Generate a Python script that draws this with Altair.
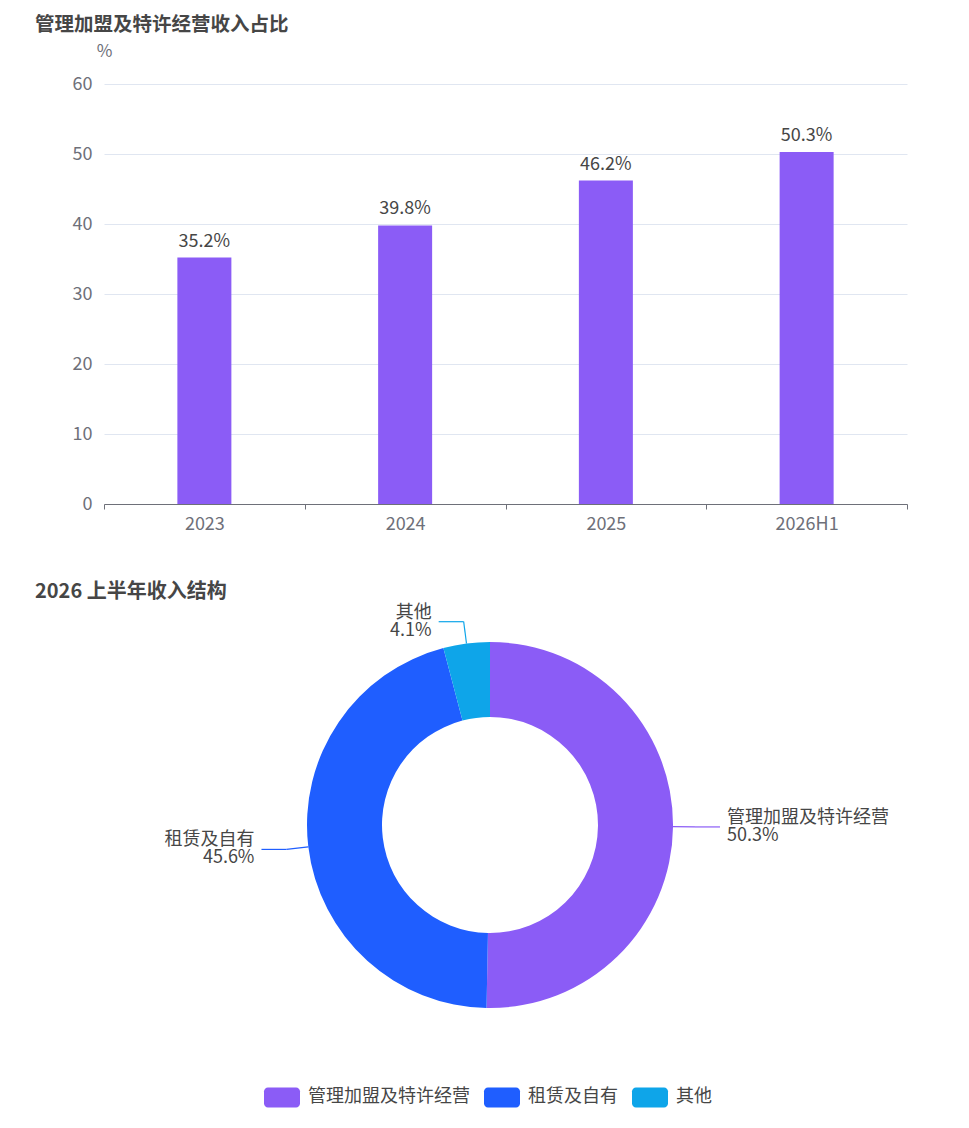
import altair as alt
import pandas as pd

# ---- data ----
years = ["2023", "2024", "2025", "2026H1"]
share = [35.2, 39.8, 46.2, 50.3]

segments = ["管理加盟及特许经营", "租赁及自有", "其他"]
seg_values = [50.3, 45.6, 4.1]
seg_colors = ["#8B5CF6", "#1F5EFF", "#0EA5E9"]

# ---- style / layout ----
FONT = "Noto Sans CJK SC"
TXT = "#464646"
AX = "#6E7079"
BAR_W, BAR_H = 803, 420
PIE_W, PIE_H = 772, 440
R_OUT, R_IN = 183, 108
L1, L2 = 22, 25

bar_df = pd.DataFrame({"year": years, "share": share})
bar_df["label"] = [f"{v:.1f}%" for v in share]

xenc = alt.X(
    "year:N", sort=years, title=None,
    scale=alt.Scale(paddingInner=0, paddingOuter=0),
    axis=alt.Axis(labelAngle=0, labelFont=FONT, labelFontSize=18, labelColor=AX,
                  labelPadding=6, domainColor=AX, tickColor=AX, tickSize=5,
                  tickBand="extent", grid=False),
)
yenc = alt.Y(
    "share:Q", scale=alt.Scale(domain=[0, 60]),
    axis=alt.Axis(values=[0, 10, 20, 30, 40, 50, 60], labelFont=FONT, labelFontSize=18,
                  labelColor=AX, labelPadding=12, domain=False, ticks=False,
                  gridColor="#E0E6F1", title="%", titleAngle=0, titleX=0, titleY=-33,
                  titleAlign="center", titleBaseline="middle", titleFont=FONT,
                  titleFontSize=17, titleFontWeight="normal", titleColor=AX),
)
bar_base = alt.Chart(bar_df)
bars = bar_base.mark_bar(color="#8B5CF6", width=54).encode(x=xenc, y=yenc)
bar_text = bar_base.mark_text(baseline="bottom", dy=-7, font=FONT, fontSize=18, color=TXT).encode(
    x=alt.X("year:N", sort=years), y=alt.Y("share:Q"), text="label:N")

bar_chart = alt.layer(bars, bar_text).properties(
    width=BAR_W, height=BAR_H,
    title=alt.TitleParams("管理加盟及特许经营收入占比", anchor="start", frame="group", dx=-69,
                          font=FONT, fontSize=19.5, fontWeight="bold", color=TXT, offset=7),
)

# ---- donut ----
pie_df = pd.DataFrame({"seg": segments, "value": seg_values, "idx": [0, 1, 2]})
color = alt.Color(
    "seg:N", scale=alt.Scale(domain=segments, range=seg_colors),
    legend=alt.Legend(title=None, orient="none", direction="horizontal", legendX=160, legendY=474,
                      padding=0,
                      symbolType="M-0.78,-0.56H0.78A0.22,0.22 0 0 1 1,-0.34V0.34A0.22,0.22 0 0 1 0.78,0.56H-0.78A0.22,0.22 0 0 1 -1,0.34V-0.34A0.22,0.22 0 0 1 -0.78,-0.56Z",
                      symbolSize=1296, symbolStrokeWidth=0, symbolOpacity=1,
                      labelFont=FONT, labelFontSize=18, labelColor=TXT, labelOffset=8,
                      columnPadding=14, labelLimit=300),
)
arcs = alt.Chart(pie_df).mark_arc(outerRadius=R_OUT, innerRadius=R_IN).encode(
    theta=alt.Theta("value:Q", stack=True), color=color, order=alt.Order("idx:Q"))

cx, cy = PIE_W / 2, PIE_H / 2
geo = alt.Chart(pie_df).transform_window(
    cum="sum(value)", sort=[alt.SortField("idx")], frame=[None, 0]
).transform_joinaggregate(total="sum(value)").transform_calculate(
    mid="2*PI*(datum.cum - datum.value/2)/datum.total",
).transform_calculate(
    x0=f"{cx} + {R_OUT}*sin(datum.mid)",
    y0=f"{cy} - {R_OUT}*cos(datum.mid)",
    x1=f"{cx} + {R_OUT + L1}*sin(datum.mid)",
    y1=f"{cy} - {R_OUT + L1}*cos(datum.mid)",
    side="sin(datum.mid) >= 0 ? 1 : -1",
).transform_calculate(
    x2=f"datum.x1 + datum.side*{L2}",
    tx="datum.x1 + datum.side*" + str(L2 + 7),
    txt="datum.seg + '\\n' + format(datum.value, '.1f') + '%'",
)
lcolor = alt.Color("seg:N", scale=alt.Scale(domain=segments, range=seg_colors), legend=None)
seg1 = geo.mark_rule(strokeWidth=1.2).encode(
    x=alt.X("x0:Q", scale=None, axis=None), y=alt.Y("y0:Q", scale=None, axis=None),
    x2="x1:Q", y2="y1:Q", color=lcolor)
seg2 = geo.mark_rule(strokeWidth=1.2).encode(
    x=alt.X("x1:Q", scale=None, axis=None), y=alt.Y("y1:Q", scale=None, axis=None),
    x2="x2:Q", y2="y1:Q", color=lcolor)
lab_r = geo.transform_filter("datum.side > 0").mark_text(
    align="left", baseline="middle", lineBreak="\n", lineHeight=18, dy=-9,
    font=FONT, fontSize=18, color=TXT
).encode(x=alt.X("tx:Q", scale=None, axis=None), y=alt.Y("y1:Q", scale=None, axis=None), text="txt:N")
lab_l = geo.transform_filter("datum.side < 0").mark_text(
    align="right", baseline="middle", lineBreak="\n", lineHeight=18, dy=-9,
    font=FONT, fontSize=18, color=TXT
).encode(x=alt.X("tx:Q", scale=None, axis=None), y=alt.Y("y1:Q", scale=None, axis=None), text="txt:N")

pie_chart = alt.layer(arcs, seg1, seg2, lab_r, lab_l).properties(
    width=PIE_W, height=PIE_H,
    title=alt.TitleParams("2026 上半年收入结构", anchor="start", frame="group", dx=-69,
                          font=FONT, fontSize=20, fontWeight="bold", color=TXT, offset=2),
)

chart = alt.vconcat(bar_chart, pie_chart, spacing=48).resolve_legend(color="independent").properties(
    padding={"left": 27, "top": 6, "right": 0, "bottom": 0}
).configure(font=FONT).configure_view(strokeWidth=0, stroke="transparent")

chart.save("out.html", embed_options={"renderer": "svg", "actions": False})
